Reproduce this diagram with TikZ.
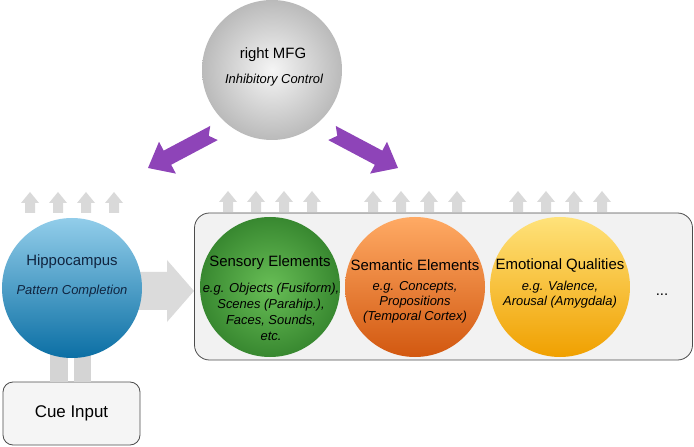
\documentclass[tikz,border=0pt]{standalone}
\usepackage{fontspec}
\setmainfont{Liberation Sans}
\usepackage{tikz}
\usetikzlibrary{calc}
\definecolor{pullcol}{HTML}{8E44B8}
\definecolor{liftgray}{HTML}{D9D9D9}
\definecolor{navy}{HTML}{10243F}
\newcommand{\liftarrow}[1]{\fill[liftgray] (#1) ++(-5,0) -- ++(0,-10) -- ++(-4,0) -- ++(9,-11) -- ++(9,11) -- ++(-4,0) -- ++(0,10) -- cycle;}
\newcommand{\pull}[2]{\coordinate (#1-base) at ($(#2)!22bp!(#1)$);
	\fill[pullcol] ($(#1)!8bp!90:(#2)$) -- ($(#1-base)!8bp!90:(#2)$) -- ($(#1-base)!18bp!90:(#2)$) -- (#2)
	-- ($(#1-base)!18bp!-90:(#2)$) -- ($(#1-base)!8bp!-90:(#2)$) -- ($(#1)!8bp!-90:(#2)$) -- ($(#1)!6bp!(#2)$) -- cycle;}

\begin{document}
\begin{tikzpicture}[x=1bp,y=-1bp,
		ball/.style={circle,minimum size=140bp,inner sep=0pt},
		ttl/.style={font=\fontsize{15}{18}\selectfont,inner sep=0pt},
		sub/.style={font=\fontsize{13}{16}\selectfont\itshape,align=center,inner sep=0pt}]
		\useasboundingbox (0,0) rectangle (694,447);
		
		\node[draw=black!70,fill=black!5,rounded corners=15bp,minimum width=498bp,minimum height=147bp,line width=0.8pt](box) at (443.5,286.5) {};
		\node[draw=black!70,fill=black!4,rounded corners=10bp,minimum width=137bp,minimum height=63bp,line width=0.8pt](cue) at (71.5,413.5) {};
		\node[font=\fontsize{17}{20}\selectfont](cuetxt) at (cue) {Cue Input};
		
		\fill[black!17] ($(cue.north)+(-22,0)$) rectangle ($(cue.north)+(-4,-45)$);
		\fill[black!17] ($(cue.north)+(2,0)$) rectangle ($(cue.north)+(19,-45)$);
		
		\coordinate (fwd) at (194,291);
		\fill[black!14] (130,272) -- ($(fwd)+(-27,-19)$) -- ($(fwd)+(-27,-31)$) -- (fwd) -- ($(fwd)+(-27,31)$) -- ($(fwd)+(-27,19)$) -- (130,310) -- cycle;
		
		\node[ball,top color={rgb,255:red,146;green,205;blue,234},middle color={rgb,255:red,60;green,160;blue,212},bottom color={rgb,255:red,11;green,111;blue,164}](hippo) at (72,288) {};
		\node[ball,inner color={rgb,255:red,104;green,190;blue,86},outer color={rgb,255:red,56;green,136;blue,48}](sens) at (270,287) {};
		\node[ball,top color={rgb,255:red,255;green,170;blue,100},middle color={rgb,255:red,247;green,128;blue,47},bottom color={rgb,255:red,210;green,88;blue,16}](sem) at (415,287) {};
		\node[ball,top color={rgb,255:red,255;green,226;blue,122},middle color={rgb,255:red,255;green,198;blue,26},bottom color={rgb,255:red,240;green,160;blue,0}](emo) at (560,287) {};
		\node[ball,inner color=black!4,outer color=black!27](mfg) at (272,70) {};
		
		\foreach \c in {hippo,sens,sem,emo}
			\foreach \d in {-42,-14,14,42}
				{\liftarrow{$(\c)+(\d,-75)$}}
		
		\node[ttl,text=navy](hippo-t) at (72,262) {Hippocampus};
		\node[sub,text=navy](hippo-s) at (72,291) {Pattern Completion};
		\node[ttl](sens-t) at (270,263) {Sensory Elements};
		\node[sub](sens-s) at (271,312) {e.g. Objects (Fusiform),\\Scenes (Parahip.),\\Faces, Sounds,\\etc.};
		\node[ttl](sem-t) at (415,265) {Semantic Elements};
		\node[sub,font=\fontsize{13}{15}\selectfont\itshape](sem-s) at (415,302) {e.g. Concepts,\\Propositions\\(Temporal Cortex)};
		\node[ttl](emo-t) at (560,265) {Emotional Qualities};
		\node[sub,font=\fontsize{13}{15}\selectfont\itshape](emo-s) at (560,295) {e.g. Valence,\\Arousal (Amygdala)};
		\node[ttl](more) at (662,295) {...};
		\node[ttl](mfg-t) at (273,55) {right MFG};
		\node[sub](mfg-s) at (274,80) {Inhibitory Control};
		
		\coordinate (inh-l) at (214,133);
		\coordinate (inh-lt) at (148,168);
		\coordinate (inh-r) at (332,133);
		\coordinate (inh-rt) at (398,168);
		\pull{inh-l}{inh-lt}
		\pull{inh-r}{inh-rt}
	\end{tikzpicture}
\end{document}
